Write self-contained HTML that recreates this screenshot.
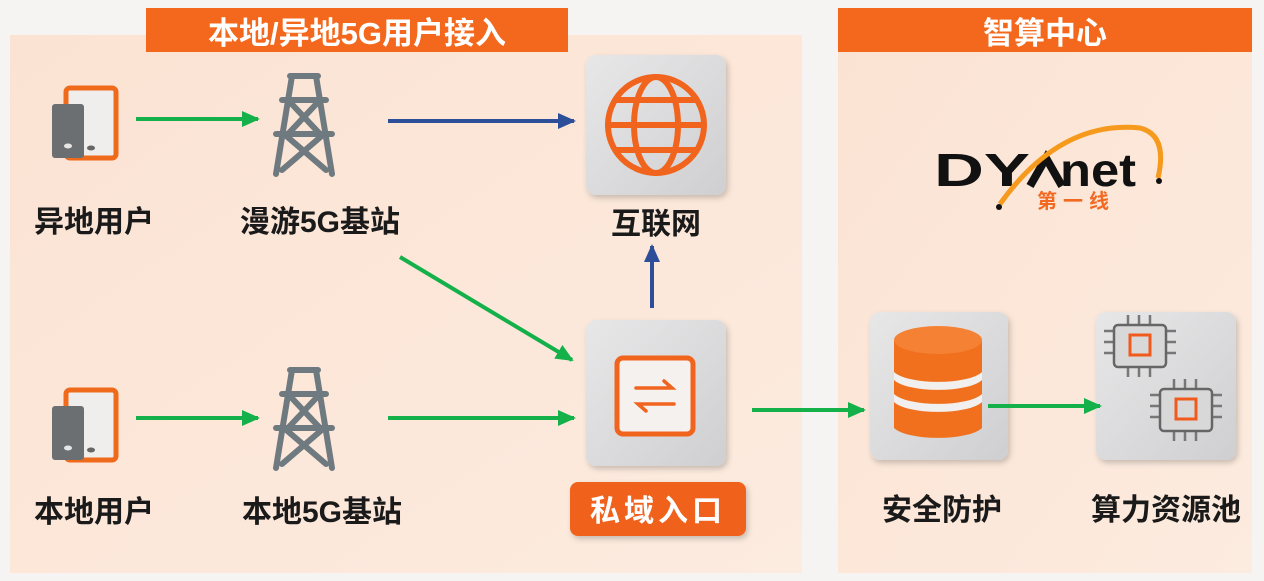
<!DOCTYPE html>
<html><head><meta charset="utf-8"><style>
body{margin:0;width:1264px;height:581px;overflow:hidden;background:#f5f4f3;font-family:"Liberation Sans","Noto Sans CJK SC",sans-serif}
</style></head><body>
<svg width="1264" height="581" viewBox="0 0 1264 581" xmlns="http://www.w3.org/2000/svg" style="position:absolute;left:0;top:0">
<defs>
<marker id="g" markerWidth="18" markerHeight="16" refX="16" refY="8" orient="auto" markerUnits="userSpaceOnUse"><path d="M0,0 L18,8 L0,16z" fill="#14b04a"/></marker>
<marker id="b" markerWidth="18" markerHeight="16" refX="16" refY="8" orient="auto" markerUnits="userSpaceOnUse"><path d="M0,0 L18,8 L0,16z" fill="#2d4f99"/></marker>
<filter id="sh" x="-20%" y="-20%" width="140%" height="140%"><feDropShadow dx="2" dy="3" stdDeviation="3" flood-color="#000" flood-opacity="0.2"/></filter>
<linearGradient id="bx" x1="0" y1="0" x2="1" y2="1"><stop offset="0" stop-color="#e8e7e8"/><stop offset="1" stop-color="#cfcfd1"/></linearGradient>
<linearGradient id="pn" x1="0" y1="0" x2="1" y2="1"><stop offset="0" stop-color="#fbe3d3"/><stop offset="1" stop-color="#fcebdf"/></linearGradient>
<g id="tower" fill="none" stroke="#6f7a80" stroke-width="6" stroke-linecap="round">
<path d="M22,6 L50,6 M14,30 L58,30 M8,64 L64,64 M24,6 L8,104 M48,6 L64,104 M20,30 L52,64 M52,30 L20,64 M16,64 L58,100 M56,64 L14,100"/>
</g>
<g id="phone">
<rect x="16" y="2" width="50" height="70" rx="4" fill="#f0eeec" stroke="#f06a1c" stroke-width="5"/>
<rect x="2" y="18" width="32" height="54" rx="3" fill="#6c6f72"/>
<ellipse cx="18" cy="60" rx="4" ry="2.5" fill="#e6e6e6"/>
<ellipse cx="41" cy="62" rx="4" ry="2.5" fill="#666"/>
</g>
<g id="chip">
<g stroke="#777" stroke-width="2.5"><path d="M14,0v10M25,0v10M36,0v10M14,52v10M25,52v10M36,52v10M-10,16h10M-10,27h10M-10,38h10M50,16h12M50,27h12M50,38h12"/></g>
<rect x="0" y="10" width="52" height="42" rx="4" fill="#d8d8d8" stroke="#666" stroke-width="2.5"/>
<rect x="16" y="20" width="20" height="20" fill="none" stroke="#f05a1c" stroke-width="3"/>
</g>
</defs>
<rect x="10" y="35" width="792" height="538" fill="url(#pn)"/>
<rect x="838" y="30" width="414" height="543" fill="url(#pn)"/>
<rect x="146" y="8" width="422" height="44" fill="#f3681c"/>
<text x="357" y="44" text-anchor="middle" font-size="31" font-weight="bold" fill="#fff">本地/异地5G用户接入</text>
<rect x="838" y="8" width="414" height="44" fill="#f3681c"/>
<text x="1045" y="44" text-anchor="middle" font-size="31" font-weight="bold" fill="#fff">智算中心</text>

<use href="#phone" x="50" y="86"/>
<use href="#phone" x="50" y="388"/>
<use href="#tower" x="268" y="70"/>
<use href="#tower" x="268" y="364"/>

<g font-size="30" font-weight="bold" fill="#1a1a1a" text-anchor="middle">
<text x="94" y="232">异地用户</text>
<text x="320" y="232">漫游5G基站</text>
<text x="656" y="234">互联网</text>
<text x="94" y="522">本地用户</text>
<text x="322" y="522">本地5G基站</text>
<text x="942" y="520">安全防护</text>
<text x="1166" y="520">算力资源池</text>
</g>

<rect x="586" y="55" width="140" height="140" rx="10" fill="url(#bx)" filter="url(#sh)"/>
<g fill="none" stroke="#f0641e" stroke-width="6">
<circle cx="656" cy="125" r="48"/><ellipse cx="656" cy="125" rx="22" ry="48"/>
<path d="M608,125h96M616,100h80M616,150h80"/>
</g>
<rect x="586" y="320" width="140" height="146" rx="10" fill="url(#bx)" filter="url(#sh)"/>
<rect x="617" y="358" width="76" height="76" rx="6" fill="#f4f1ef" stroke="#f0641e" stroke-width="5"/>
<path d="M636,388h36l-8,-7M674,404h-36l8,7" fill="none" stroke="#f0641e" stroke-width="3.5" stroke-linecap="round"/>
<rect x="570" y="482" width="176" height="54" rx="8" fill="#f0621b" filter="url(#sh)"/>
<text x="658" y="521" text-anchor="middle" font-size="30" font-weight="bold" fill="#fff" letter-spacing="4">私域入口</text>

<rect x="870" y="312" width="138" height="148" rx="10" fill="url(#bx)" filter="url(#sh)"/>
<g>
<path d="M894,340v88a46,14 0 0 0 88,0v-88z" fill="#f0701e"/>
<path d="M894,372a46,14 0 0 0 88,0v8a46,14 0 0 1 -88,0z" fill="#f2f0ee"/>
<path d="M894,394a46,14 0 0 0 88,0v8a46,14 0 0 1 -88,0z" fill="#f2f0ee"/>
<ellipse cx="938" cy="340" rx="44" ry="14" fill="#f58234"/>
</g>
<rect x="1096" y="312" width="140" height="148" rx="10" fill="url(#bx)" filter="url(#sh)"/>
<use href="#chip" x="1114" y="315"/>
<use href="#chip" x="1160" y="379"/>

<g stroke-width="4" fill="none">
<path d="M136,119H258" stroke="#14b04a" marker-end="url(#g)"/>
<path d="M388,121H574" stroke="#2d4f99" marker-end="url(#b)"/>
<path d="M400,257L572,360" stroke="#14b04a" marker-end="url(#g)"/>
<path d="M652,308V246" stroke="#2d4f99" marker-end="url(#b)"/>
<path d="M136,418H258" stroke="#14b04a" marker-end="url(#g)"/>
<path d="M388,418H574" stroke="#14b04a" marker-end="url(#g)"/>
<path d="M752,410H864" stroke="#14b04a" marker-end="url(#g)"/>
<path d="M988,406H1100" stroke="#14b04a" marker-end="url(#g)"/>
</g>

<text x="934" y="186" font-size="46" font-weight="bold" fill="#111" textLength="96" lengthAdjust="spacingAndGlyphs">DY</text>
<path d="M1030,186 L1046,158 L1062,186" fill="none" stroke="#111" stroke-width="8"/>
<text x="1060" y="186" font-size="46" font-weight="bold" fill="#111" textLength="76" lengthAdjust="spacingAndGlyphs">net</text>
<path d="M1000,204 Q1060,120 1140,128 Q1168,135 1158,178" fill="none" stroke="#f59a1c" stroke-width="5"/>
<circle cx="999" cy="207" r="3" fill="#111"/><circle cx="1159" cy="181" r="3" fill="#111"/>
<text x="1037" y="208" font-size="20" font-weight="bold" fill="#f26a22" letter-spacing="6">第一线</text>
</svg>
</body></html>
